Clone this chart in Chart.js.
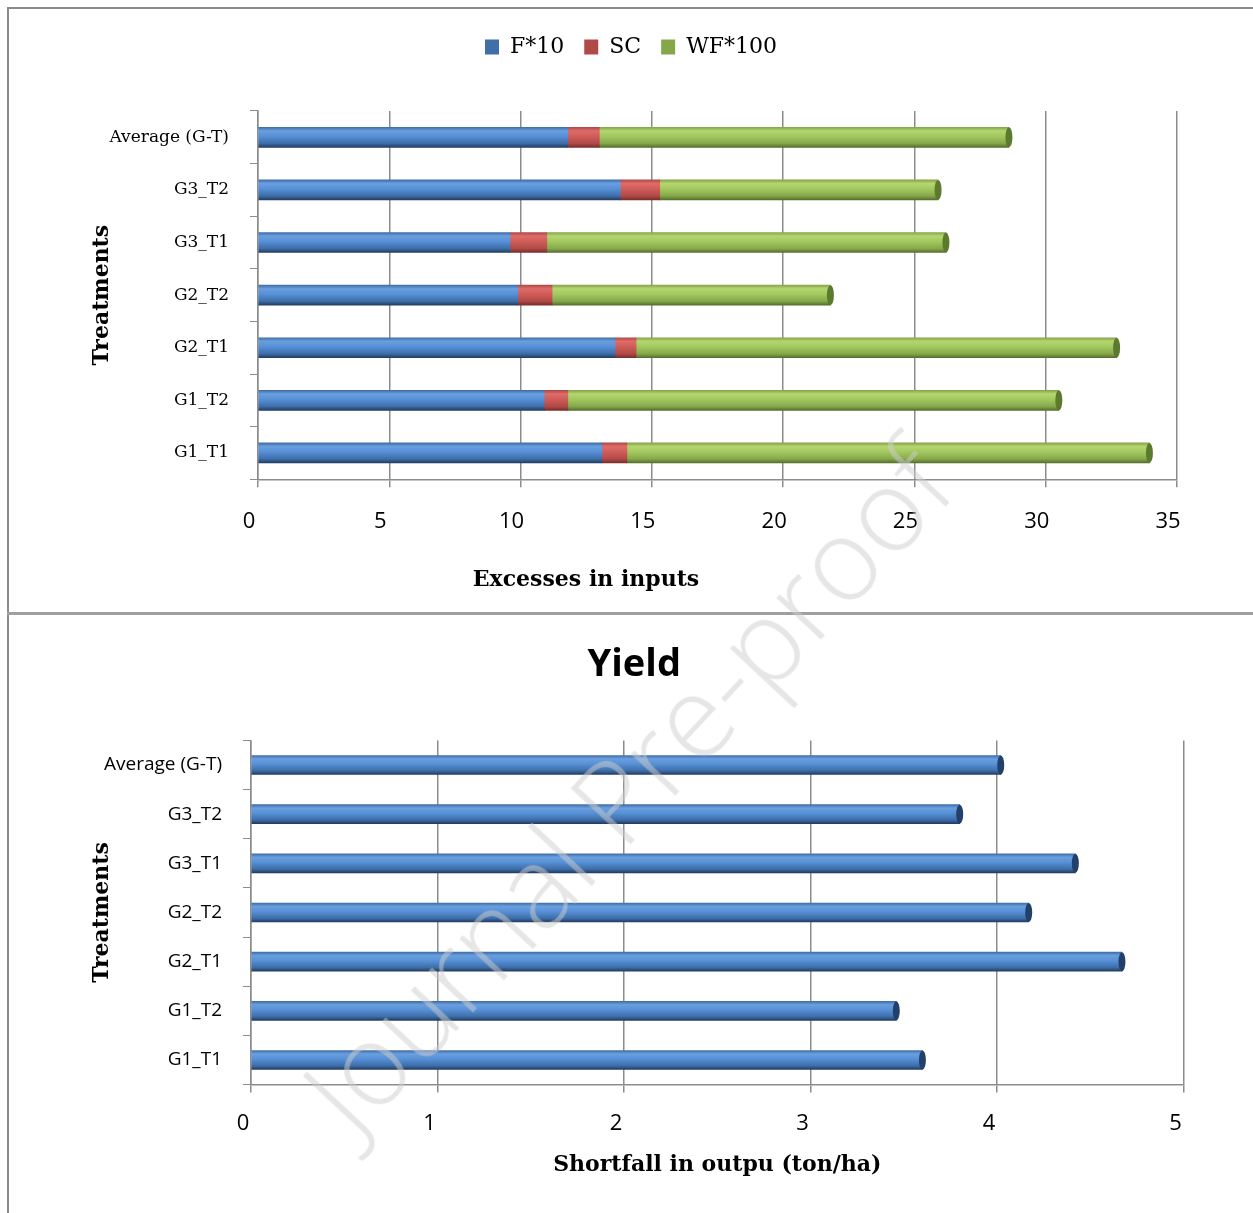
<!DOCTYPE html>
<html>
<head>
<meta charset="utf-8">
<title>Excesses in inputs / Yield</title>
<script src="https://cdn.jsdelivr.net/npm/chart.js@4.4.1/dist/chart.umd.min.js"></script>
<style>
  html, body { margin: 0; padding: 0; background: #fff; }
  body { width: 1253px; height: 1213px; position: relative; overflow: hidden; }
  .panel { position: absolute; left: 0; width: 1253px; }
  #frame { position: absolute; left: 7px; top: 7px; width: 1260px; height: 1220px;
           border-left: 2px solid #8a8a8a; border-top: 2px solid #8a8a8a; }
  #split { position: absolute; left: 7px; top: 612px; width: 1260px; border-top: 3px solid #a0a0a0; }
  #mark { position: absolute; left: 625px; top: 785px; transform: translate(-50%, -50%) rotate(-47deg);
          white-space: nowrap; font: 300 115px 'Open Sans', sans-serif; color: rgba(205, 205, 205, 0.5);
          pointer-events: none; z-index: 5; }
</style>
</head>
<body>
<div id="frame"></div>
<div id="split"></div>
<div class="panel" style="top:0;height:613px"><canvas id="inputsChart"></canvas></div>
<div class="panel" style="top:613px;height:600px"><canvas id="yieldChart"></canvas></div>
<div id="mark">Journal Pre-proof</div>
<script>
// data
const categories = ['Average (G-T)', 'G3_T2', 'G3_T1', 'G2_T2', 'G2_T1', 'G1_T2', 'G1_T1'];
const fTimes10 = [11.8, 13.8, 9.6, 9.9, 13.6, 10.9, 13.1];
const scValues = [1.2, 1.5, 1.4, 1.3, 0.8, 0.9, 0.95];
const wfTimes100 = [15.6, 10.6, 15.2, 10.6, 18.3, 18.7, 19.9];
const yieldShortfall = [4.02, 3.80, 4.42, 4.17, 4.67, 3.46, 3.60];
const inputsMax = 35;
const yieldMax = 5;

const BLUE = '#4F81BD', RED = '#C0504D', GREEN = '#9BBB59';
const blueStops = ['#3f6fa8', '#6a9fdf', '#5690d6', '#3e6ea9', '#223d63'];
const redStops = ['#b04a47', '#de6c68', '#d05c58', '#b04a47', '#7a2e2c'];
const greenStops = ['#86a64a', '#b5d66f', '#a2c85f', '#87a84b', '#55702b'];

// vertical gradient so the bars look like the cylinders in the original
function cylinder(flat, stops, thick) {
    return function(ctx) {
        if (ctx.type !== 'data') return flat;
        const chart = ctx.chart;
        const y = chart.scales.y;
        if (!y) return flat;
        const yc = y.getPixelForValue(ctx.dataIndex);
        if (!isFinite(yc)) return flat;
        const g = chart.ctx.createLinearGradient(0, yc - thick / 2, 0, yc + thick / 2);
        g.addColorStop(0, stops[0]);
        g.addColorStop(0.18, stops[1]);
        g.addColorStop(0.45, stops[2]);
        g.addColorStop(0.8, stops[3]);
        g.addColorStop(1, stops[4]);
        return g;
    };
}

// rounded end of the last bar segment
const capPlugin = {
    id: 'caps',
    afterDatasetsDraw(chart, args, opts) {
        const meta = chart.getDatasetMeta(chart.data.datasets.length - 1);
        const ctx = chart.ctx;
        ctx.save();
        meta.data.forEach(bar => {
            const p = bar.getProps(['x', 'y', 'height'], true);
            ctx.beginPath();
            ctx.ellipse(p.x, p.y, 3.5, p.height / 2, 0, 0, Math.PI * 2);
            ctx.fillStyle = opts.color;
            ctx.fill();
        });
        ctx.restore();
    }
};

// axis caption that is not centred on the plot area in the original
const notePlugin = {
    id: 'note',
    afterDraw(chart, args, opts) {
        if (!opts.text) return;
        const ctx = chart.ctx;
        ctx.save();
        ctx.font = opts.font;
        ctx.fillStyle = '#000';
        ctx.textAlign = 'center';
        ctx.textBaseline = 'middle';
        ctx.fillText(opts.text, opts.x, opts.y);
        ctx.restore();
    }
};

Chart.register(capPlugin, notePlugin);

const gridColor = '#8c8c8c';

new Chart(document.getElementById('inputsChart').getContext('2d'), {
    type: 'bar',
    data: {
        labels: categories,
        datasets: [
            { label: 'F*10', data: fTimes10, backgroundColor: cylinder(BLUE, blueStops, 20), barThickness: 20 },
            { label: 'SC', data: scValues, backgroundColor: cylinder(RED, redStops, 20), barThickness: 20 },
            { label: 'WF*100', data: wfTimes100, backgroundColor: cylinder(GREEN, greenStops, 20), barThickness: 20 }
        ]
    },
    options: {
        indexAxis: 'y',
        responsive: true,
        maintainAspectRatio: false,
        animation: false,
        layout: { padding: { top: 16, left: 85, right: 76, bottom: 0 } },
        scales: {
            x: {
                stacked: true,
                min: 0,
                max: inputsMax,
                ticks: { stepSize: 5, color: '#000', font: { family: 'Open Sans', size: 22 }, padding: 21, labelOffset: -9 },
                grid: { color: gridColor, lineWidth: 1.5, tickLength: 8 },
                border: { color: gridColor, width: 1.5 },
                afterFit(scale) { scale.height = 133.75; }
            },
            y: {
                stacked: true,
                ticks: { color: '#000', font: { family: 'DejaVu Serif', size: 17 }, padding: 21 },
                grid: { drawOnChartArea: false, color: gridColor, tickLength: 8 },
                border: { color: gridColor, width: 1.5 },
                title: { display: true, text: 'Treatments', color: '#000', padding: { top: 4, bottom: 0 },
                         font: { family: 'DejaVu Serif', size: 22, weight: 'bold' } },
                afterFit(scale) { scale.width = 173; }
            }
        },
        plugins: {
            legend: {
                position: 'top',
                labels: { color: '#000', boxWidth: 14, boxHeight: 15, padding: 20,
                          font: { family: 'DejaVu Serif', size: 22 } }
            },
            title: { display: true, text: '', weight: 500, font: { size: 10, lineHeight: 1 },
                     padding: { top: 0, bottom: 33 } },
            tooltip: { enabled: false },
            caps: { color: '#5c7a2e' },
            note: { text: 'Excesses in inputs', x: 586, y: 580, font: 'bold 22px "DejaVu Serif"' }
        }
    }
});

new Chart(document.getElementById('yieldChart').getContext('2d'), {
    type: 'bar',
    data: {
        labels: categories,
        datasets: [
            { label: 'Yield', data: yieldShortfall, backgroundColor: cylinder(BLUE, blueStops, 19), barThickness: 19 }
        ]
    },
    options: {
        indexAxis: 'y',
        responsive: true,
        maintainAspectRatio: false,
        animation: false,
        layout: { padding: { top: 0, left: 85, right: 69.5, bottom: 0 } },
        scales: {
            x: {
                min: 0,
                max: yieldMax,
                ticks: { stepSize: 1, color: '#000', font: { family: 'Open Sans', size: 22 }, padding: 18, labelOffset: -8 },
                grid: { color: gridColor, lineWidth: 1.5, tickLength: 8 },
                border: { color: gridColor, width: 1.5 },
                title: { display: true, text: 'Shortfall in outpu (ton/ha)', color: '#000',
                         padding: { top: 0, bottom: 34.8 },
                         font: { family: 'DejaVu Serif', size: 22, weight: 'bold' } },
                afterFit(scale) { scale.height = 128.4; }
            },
            y: {
                ticks: { color: '#000', font: { family: 'Open Sans', size: 19 }, padding: 21 },
                grid: { drawOnChartArea: false, color: gridColor, tickLength: 8 },
                border: { color: gridColor, width: 1.5 },
                title: { display: true, text: 'Treatments', color: '#000', padding: { top: 4, bottom: 0 },
                         font: { family: 'DejaVu Serif', size: 22, weight: 'bold' } },
                afterFit(scale) { scale.width = 166; }
            }
        },
        plugins: {
            legend: { display: false },
            title: { display: true, text: 'Yield', color: '#000', padding: { top: 29, bottom: 52.8 },
                     font: { family: 'Open Sans', size: 38, weight: 'bold' } },
            tooltip: { enabled: false },
            caps: { color: '#22406b' }
        }
    }
});
</script>
</body>
</html>
